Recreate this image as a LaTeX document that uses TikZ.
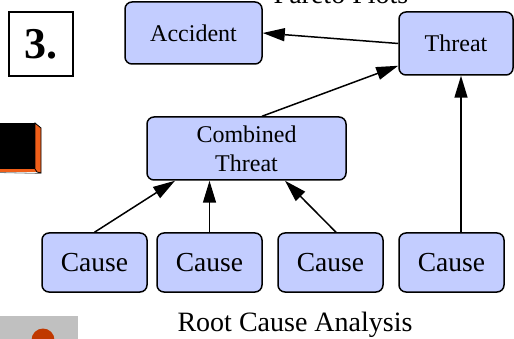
\documentclass[tikz,border=0pt]{standalone}
\usepackage{fontspec}
\setmainfont{Liberation Serif}
\usetikzlibrary{arrows.meta,calc}
\definecolor{boxblue}{RGB}{195,205,255}
\definecolor{btnorange}{RGB}{240,95,25}
\definecolor{dotred}{RGB}{192,56,0}
\definecolor{panelgray}{RGB}{192,192,192}
\begin{document}
\begin{tikzpicture}[x=1pt,y=-1pt,
		box/.style={draw,line width=1.5pt,fill=boxblue,rounded corners=7pt,align=center,inner sep=0pt,font=\fontsize{24}{29}\selectfont},
		causebox/.style={box,minimum width=105pt,minimum height=59pt,font=\fontsize{27.5}{33}\selectfont},
		arr/.style={line width=1.5pt,-{Triangle[length=22pt,width=13pt]}}]
		\useasboundingbox (0,0) rectangle (514,339);
		% number and button
		\node[draw,line width=1.5pt,fill=white,minimum width=64pt,minimum height=64pt,inner sep=0pt,font=\fontsize{44}{44}\selectfont\bfseries] (num) at (41,44) {3.};
		\fill[black] (0,123) rectangle (35,169);
		\fill[btnorange] (0,169) rectangle (37,172);
		\filldraw[fill=btnorange,line width=0.8pt] (35,123) -- (41,128) -- (41,173) -- (37,172) -- (35,169) -- cycle;
		\draw[line width=0.8pt,gray] (0,172.5) -- (41,173.5);
		\fill[panelgray] (0,316) rectangle (78,339);
		\begin{scope}
			\clip (0,316) rectangle (78,339);
			\fill[dotred] (43,340) circle (11.5);
		\end{scope}
		% boxes
		\node[box,minimum width=137pt,minimum height=62pt] (accident) at (193.5,33) {Accident};
		\node[box,minimum width=114pt,minimum height=63pt] (threat) at (456,43.5) {Threat};
		\node[box,minimum width=199pt,minimum height=63pt] (combined) at (246.5,148.5) {Combined\\Threat};
		\node[causebox] (cause1) at (94.5,262.5) {Cause};
		\node[causebox] (cause2) at (209.5,262.5) {Cause};
		\node[causebox] (cause3) at (330.5,262.5) {Cause};
		\node[causebox] (cause4) at (451.5,262.5) {Cause};
		% captions
		\node[anchor=base,inner sep=0pt,font=\fontsize{28}{33}\selectfont] (pareto) at (341,4) {Pareto Plots};
		\node[anchor=base,inner sep=0pt,font=\fontsize{28}{33}\selectfont] (rca) at (295,331) {Root Cause Analysis};
		% arrows
		\draw[arr] (cause1.north) -- ($(combined.south)+(-71.5,0)$);
		\draw[arr] (cause2.north) -- (combined.south -| cause2.north);
		\draw[arr] ($(cause3.north)+(5.5,0)$) -- ($(combined.south)+(38.5,0)$);
		\draw[arr] ($(cause4.north)+(9.5,0)$) -- ($(threat.south)+(5,0)$);
		\draw[arr] ($(combined.north)+(15.5,0)$) -- ($(threat.south west)+(0,-10)$);
		\draw[arr] (threat.west) -- (accident.east);
	\end{tikzpicture}
\end{document}
